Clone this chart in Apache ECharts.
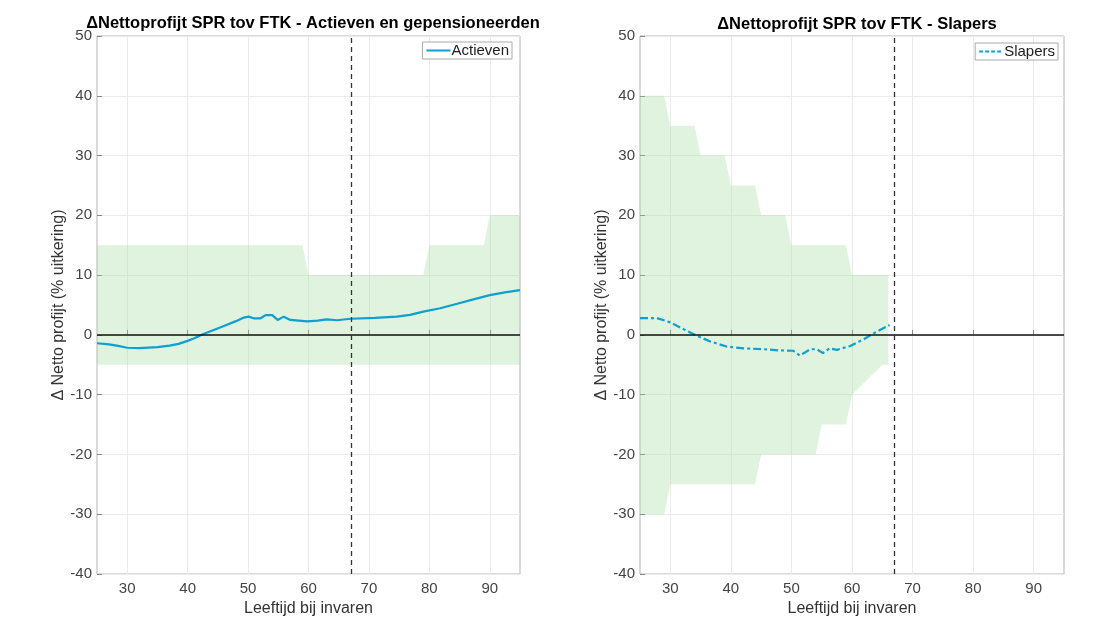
<!DOCTYPE html>
<html>
<head>
<meta charset="utf-8">
<script src="https://cdn.jsdelivr.net/npm/echarts@6/dist/echarts.min.js"></script>
<style>
  html, body { margin: 0; padding: 0; background: #fff; }
  #main { width: 1112px; height: 635px; }
</style>
</head>
<body>
<div id="main"></div>
<script>
// tick labels
const xTicks = [30, 40, 50, 60, 70, 80, 90];
const invaarAge = 67;

// Actieven line
const actievenAge = [25, 27, 28.5, 30, 32, 35, 37, 38.5, 40, 41, 42.5, 44, 46, 48, 49.3, 50.1, 51, 52, 52.9, 54, 54.9, 55.9, 57, 59.8, 61.5, 63, 64.7, 67, 71, 74.6, 76.8, 79, 81.8, 84.6, 87.3, 90, 92.5, 95];
const actievenVal = [-1.4, -1.6, -1.85, -2.15, -2.2, -2.05, -1.8, -1.5, -1.0, -0.6, 0.1, 0.7, 1.5, 2.3, 2.9, 3.05, 2.75, 2.75, 3.3, 3.3, 2.5, 3.05, 2.5, 2.25, 2.4, 2.6, 2.45, 2.7, 2.85, 3.05, 3.35, 3.9, 4.45, 5.2, 5.95, 6.65, 7.1, 7.5];

// Slapers line
const slapersAge = [25, 27.8, 30, 32.2, 34.4, 36.6, 39.3, 42.1, 45.4, 48.1, 50.3, 51.4, 53.1, 54.2, 55.2, 56.3, 57.5, 59.7, 61.9, 64.1, 66.2];
const slapersVal = [2.8, 2.8, 2.1, 0.95, -0.15, -1.1, -1.95, -2.25, -2.4, -2.6, -2.65, -3.45, -2.4, -2.4, -3.05, -2.25, -2.5, -1.85, -0.75, 0.55, 1.65];

// bandbreedtes [leeftijd, waarde]
const bandActUpper = [[25, 15], [59, 15], [60, 10], [79, 10], [80, 15], [89, 15], [90, 20], [95, 20]];
const bandActLower = [[25, -5], [95, -5]];
const bandSlpUpper = [[25, 40], [29, 40], [30, 35], [34, 35], [35, 30], [39, 30], [40, 25], [44, 25], [45, 20], [49, 20], [50, 15], [59, 15], [60, 10], [66, 10]];
const bandSlpLower = [[25, -30], [29, -30], [30, -25], [44, -25], [45, -20], [54, -20], [55, -15], [59, -15], [60, -10], [65, -5], [66, -5]];

const lineColor = '#0f9fd2';
const font = 'Liberation Sans, Arial, sans-serif';

var myChart = echarts.init(document.getElementById('main'));

function zip(a, b) {
  return a.map((v, i) => [v, b[i]]);
}

function bandSeries(idx, upper, lower) {
  return {
    type: 'custom',
    xAxisIndex: idx,
    yAxisIndex: idx,
    silent: true,
    z: 1,
    clip: true,
    data: [[upper[0][0], upper[0][1]]],
    renderItem: function (params, api) {
      const pts = upper.map((p) => api.coord(p))
        .concat(lower.slice().reverse().map((p) => api.coord(p)));
      return {
        type: 'polygon',
        shape: { points: pts },
        style: { fill: 'rgba(150, 215, 150, 0.30)' },
      };
    },
  };
}

function refLines() {
  return {
    silent: true,
    symbol: 'none',
    label: { show: false },
    data: [
      { yAxis: 0, lineStyle: { color: '#111', width: 1.6, type: 'solid' } },
      { xAxis: invaarAge, lineStyle: { color: '#333', width: 1.3, type: [5, 4] } },
    ],
  };
}

function xAxis(idx) {
  return {
    gridIndex: idx,
    type: 'value',
    min: 25,
    max: 95,
    name: 'Leeftijd bij invaren',
    nameLocation: 'middle',
    nameGap: 25,
    nameTextStyle: { color: '#333', fontSize: 16, fontFamily: font },
    axisLine: { show: false },
    axisTick: { show: true, inside: true, length: 5, customValues: xTicks, lineStyle: { color: '#888' } },
    axisLabel: { customValues: xTicks, color: '#444', fontSize: 15, fontFamily: font, margin: 7 },
    splitLine: { show: true, lineStyle: { color: '#ebebeb', width: 1 } },
  };
}

function yAxis(idx) {
  return {
    gridIndex: idx,
    type: 'value',
    min: -40,
    max: 50,
    interval: 10,
    name: 'Δ Netto profijt (% uitkering)',
    nameLocation: 'middle',
    nameGap: 29,
    nameTextStyle: { color: '#333', fontSize: 16, fontFamily: font },
    axisLine: { show: false },
    axisTick: { show: true, inside: true, length: 5, lineStyle: { color: '#888' } },
    axisLabel: { color: '#444', fontSize: 15, fontFamily: font, margin: 5 },
    splitLine: { show: true, lineStyle: { color: '#ebebeb', width: 1 } },
  };
}

function legend(name, right, top, dash) {
  return {
    data: [name],
    right: right,
    top: top,
    orient: 'vertical',
    backgroundColor: '#fff',
    borderColor: '#aaa',
    borderWidth: 1,
    borderRadius: 0,
    padding: [1, 3],
    itemWidth: 24,
    itemHeight: 12,
    itemStyle: { opacity: 0 },
    lineStyle: { type: dash, width: 2 },
    textStyle: { color: '#222', fontSize: 15, fontFamily: font, padding: [0, 0, 0, -4] },
  };
}

const option = {
  backgroundColor: '#fff',
  animation: false,
  title: [
    {
      text: 'ΔNettoprofijt SPR tov FTK - Actieven en gepensioneerden',
      left: 308, top: 10, textAlign: 'center',
      textStyle: { fontSize: 16.5, fontWeight: 'bold', color: '#000', fontFamily: font },
    },
    {
      text: 'ΔNettoprofijt SPR tov FTK - Slapers',
      left: 852, top: 11, textAlign: 'center',
      textStyle: { fontSize: 16.5, fontWeight: 'bold', color: '#000', fontFamily: font },
    },
  ],
  legend: [
    legend('Actieven', 600, 42, 'solid'),
    legend('Slapers', 54, 43, [4, 2]),
  ],
  grid: [
    { left: 97, top: 36, width: 423, height: 538, show: true, borderColor: '#b5b5b5', borderWidth: 1, backgroundColor: 'transparent' },
    { left: 640, top: 36, width: 424, height: 538, show: true, borderColor: '#b5b5b5', borderWidth: 1, backgroundColor: 'transparent' },
  ],
  xAxis: [xAxis(0), xAxis(1)],
  yAxis: [yAxis(0), yAxis(1)],
  series: [
    bandSeries(0, bandActUpper, bandActLower),
    bandSeries(1, bandSlpUpper, bandSlpLower),
    {
      name: 'Actieven',
      type: 'line',
      xAxisIndex: 0,
      yAxisIndex: 0,
      z: 3,
      showSymbol: false,
      symbol: 'none',
      lineStyle: { color: lineColor, width: 2.2, type: 'solid' },
      itemStyle: { color: lineColor },
      data: zip(actievenAge, actievenVal),
      markLine: refLines(),
    },
    {
      name: 'Slapers',
      type: 'line',
      xAxisIndex: 1,
      yAxisIndex: 1,
      z: 3,
      showSymbol: false,
      symbol: 'none',
      lineStyle: { color: lineColor, width: 2.2, type: [8, 3, 3, 3] },
      itemStyle: { color: lineColor },
      data: zip(slapersAge, slapersVal),
      markLine: refLines(),
    },
  ],
};

myChart.setOption(option);
</script>
</body>
</html>
